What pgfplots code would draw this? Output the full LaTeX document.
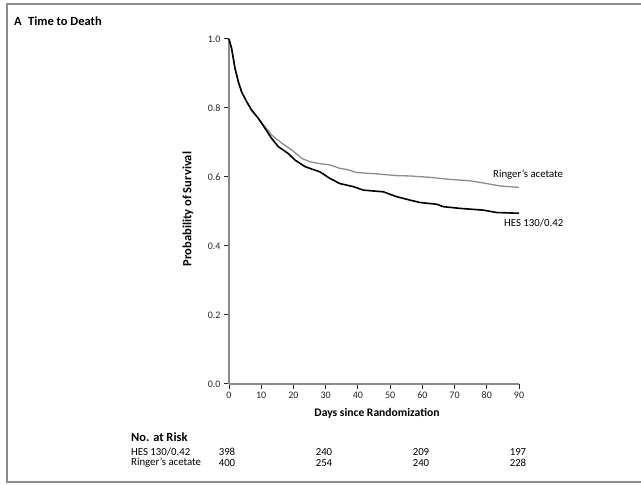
\documentclass[border=0pt]{standalone}
\usepackage{pgfplots}
\pgfplotsset{compat=1.18}
\usepackage{fontspec}
\setmainfont{Carlito}
\definecolor{ringer}{HTML}{8C8C8C}
\definecolor{axgray}{HTML}{8A8A8A}
\begin{document}
\begin{tikzpicture}
\useasboundingbox (0pt,0pt) rectangle (641pt,485pt);
\draw[gray!90, line width=2pt] (700pt,481pt) -- (6.5pt,481pt) -- (6.5pt,2.5pt) -- (700pt,2.5pt);
\node[anchor=west, font=\fontsize{12.5}{14}\selectfont\bfseries, inner sep=0pt] at (14pt,464pt) {A};
\node[anchor=west, font=\fontsize{12.5}{14}\selectfont\bfseries, inner sep=0pt] at (28pt,464pt) {Time to Death};
\begin{axis}[
  at={(229pt,101pt)}, anchor=south west,
  scale only axis, width=290pt, height=345pt,
  xmin=0, xmax=90, ymin=0, ymax=1,
  axis x line*=bottom, axis y line*=left,
  axis line style={axgray, line width=1.4pt},
  xtick={0,10,...,90}, ytick={0,0.2,0.4,0.6,0.8,1.0},
  xtick pos=bottom, ytick pos=left,
  xtick align=outside, ytick align=outside,
  major tick length=5pt,
  every tick/.style={black!85, line width=1pt},
  yticklabel style={/pgf/number format/fixed, /pgf/number format/fixed zerofill, /pgf/number format/precision=1},
  /pgf/number format/assume math mode=true,
  tick label style={font=\fontsize{10}{11}\selectfont, text=black!85},
  xticklabel style={yshift=1pt},
  clip=false,
]
\addplot[ringer, line width=1.3pt] coordinates {
(0,1.0) (0.8,0.973) (1.86,0.915) (2.9,0.876) (3.9,0.847) (5.5,0.818) (7.0,0.794) (9.1,0.770) (11.2,0.745)
(13.2,0.722) (16.4,0.698) (19.5,0.678) (22.6,0.654) (25.1,0.644) (28,0.639) (31.3,0.635) (34.4,0.625)
(36.5,0.622) (39.6,0.613) (45.8,0.609) (52,0.604) (56.2,0.603) (59.3,0.601) (62.4,0.599) (68.6,0.593)
(74.8,0.589) (80,0.581) (84.1,0.574) (90,0.570)
};
\addplot[black, line width=1.6pt] coordinates {
(0,1.0) (0.8,0.973) (1.86,0.915) (2.9,0.876) (3.9,0.847) (5.5,0.818) (7.0,0.794) (9.1,0.770) (11.2,0.741)
(13.2,0.712) (15.3,0.688) (18.4,0.668) (20.5,0.649) (23.6,0.630) (25.1,0.625) (28.2,0.615) (31.3,0.596)
(34.4,0.581) (38.6,0.572) (41.7,0.562) (47.9,0.557) (52,0.543) (56.2,0.533) (59.3,0.526) (64.5,0.521)
(66.5,0.514) (71.7,0.509) (78.9,0.504) (83.1,0.497) (90,0.495)
};
\end{axis}
\node[rotate=90, font=\fontsize{12.5}{14}\selectfont\bfseries] at (188pt,276pt) {Probability of Survival};
\node[font=\fontsize{11.6}{13}\selectfont\bfseries] at (377pt,72pt) {Days since Randomization};
\node[anchor=west, font=\fontsize{10.8}{12}\selectfont, inner sep=0pt] at (493pt,310pt) {Ringer’s acetate};
\node[anchor=west, font=\fontsize{10.8}{12}\selectfont, inner sep=0pt] at (504pt,262pt) {HES 130/0.42};
\node[anchor=west, font=\fontsize{12.5}{14}\selectfont\bfseries, inner sep=0pt] at (131pt,48pt) {No. at Risk};
\node[anchor=west, font=\fontsize{10.8}{12}\selectfont, inner sep=0pt] at (131pt,33pt) {HES 130/0.42};
\node[anchor=west, font=\fontsize{10.8}{12}\selectfont, inner sep=0pt] at (131pt,22pt) {Ringer’s acetate};
\foreach \x/\a/\b in {227/398/400, 324/240/254, 421/209/240, 518/197/228} {
  \node[font=\fontsize{10.8}{12}\selectfont, inner sep=0pt] at (\x pt,33pt) {\a};
  \node[font=\fontsize{10.8}{12}\selectfont, inner sep=0pt] at (\x pt,22pt) {\b};
}
\end{tikzpicture}
\end{document}
